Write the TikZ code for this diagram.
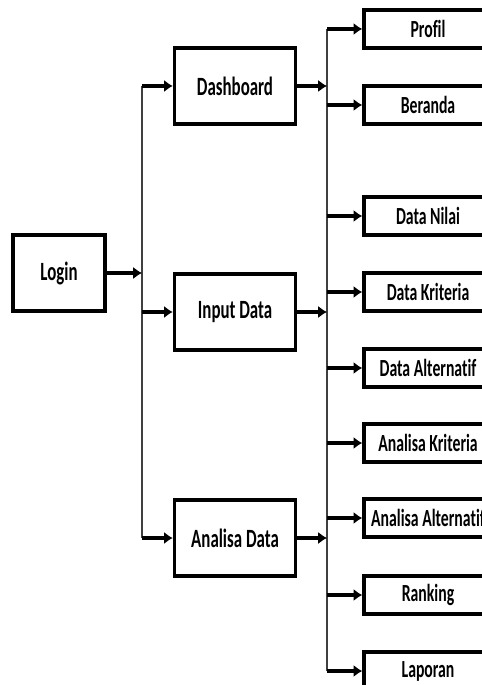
\documentclass[tikz,border=0pt]{standalone}
\usepackage{fontspec}
\setmainfont[FakeStretch=0.64, Ligatures=NoCommon]{Carlito}
\usetikzlibrary{positioning,arrows.meta}
\begin{document}
\begin{tikzpicture}[>={Latex[length=5pt,width=7pt]}, x=0.02cm, y=-0.02cm,
	menu/.style={draw, line width=1.9pt, minimum width=2.42cm, minimum height=1.52cm, font=\fontsize{15}{17}\selectfont\bfseries},
	sub/.style={draw, line width=1.9pt, minimum width=2.56cm, minimum height=0.76cm, font=\fontsize{14}{16}\selectfont\bfseries},
	arr/.style={->, line width=1.8pt},
	trunk/.style={line width=0.7pt, black!75}]
		\useasboundingbox (0,0) rectangle (482,685);
		\clip (0,0) rectangle (482,685);
		% main menu
		\node[menu, minimum width=1.84cm] (login) at (59,273) {Login};
		\node[menu] (dash) at (235,86) {Dashboard};
		\node[menu] (idata) at (235,312) {Input Data};
		\node[menu] (adata) at (235,538) {Analisa Data};
		% sub menu
		\node[sub] (profil) at (428,29) {Profil};
		\node[sub] (beranda) at (428,105) {Beranda};
		\node[sub] (nilai) at (428,216) {Data Nilai};
		\node[sub] (kriteria) at (428,292) {Data Kriteria};
		\node[sub] (alternatif) at (428,368) {Data Alternatif};
		\node[sub] (akriteria) at (428,443) {Analisa Kriteria};
		\node[sub] (aalternatif) at (428,518) {Analisa Alternatif};
		\node[sub] (ranking) at (428,595) {Ranking};
		\node[sub] (laporan) at (428,671) {Laporan};
		% trunks
		\coordinate (ltrunk) at (142,273);
		\coordinate (rtrunk) at (327,312);
		\draw[trunk] (ltrunk |- dash.west) -- (ltrunk |- adata.west);
		\draw[trunk] (rtrunk |- profil.west) -- (rtrunk |- laporan.west);
		\draw[arr] (login) -- (ltrunk);
		\foreach \n in {dash,idata,adata}{
			\draw[arr] (ltrunk |- \n.west) -- (\n);
			\draw[arr] (\n) -- (\n.east -| rtrunk);
		}
		\foreach \n in {profil,beranda,nilai,kriteria,alternatif,akriteria,aalternatif,ranking,laporan}
			\draw[arr] (rtrunk |- \n.west) -- (\n);
	\end{tikzpicture}
\end{document}
